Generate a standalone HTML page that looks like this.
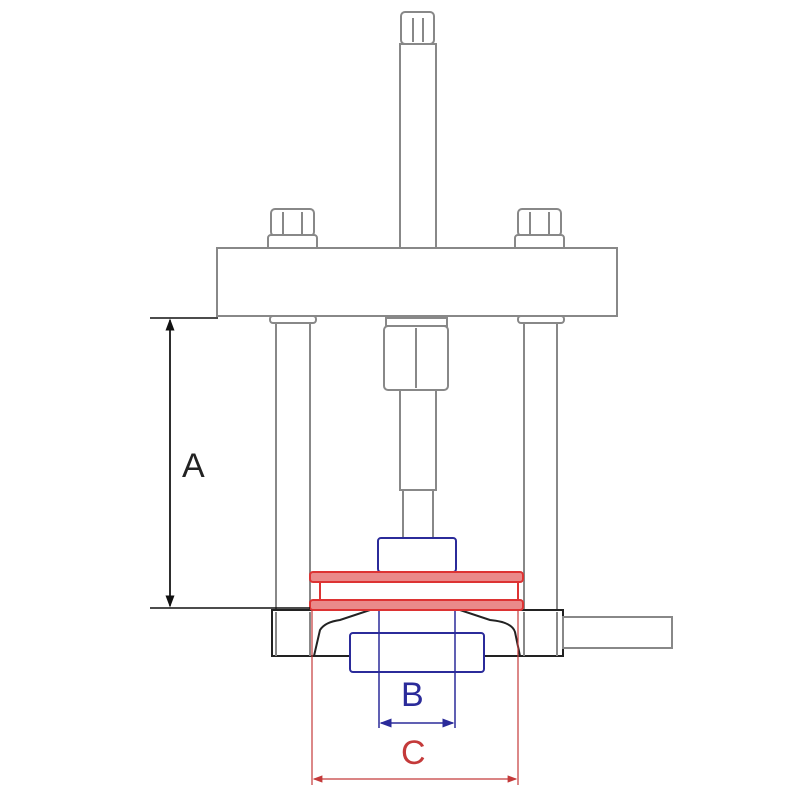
<!DOCTYPE html>
<html><head><meta charset="utf-8"><style>html,body{margin:0;padding:0;background:#fff}svg{display:block}</style></head>
<body>
<svg width="800" height="800" viewBox="0 0 800 800" xmlns="http://www.w3.org/2000/svg">
<defs>
<marker id="ak" markerWidth="8" markerHeight="8" refX="7" refY="4" orient="auto"><path d="M0,1 L8,4 L0,7z" fill="#111"/></marker>
<marker id="ab" markerWidth="8" markerHeight="8" refX="7" refY="4" orient="auto-start-reverse"><path d="M0,1 L8,4 L0,7z" fill="#2b2b9a"/></marker>
<marker id="ar" markerWidth="8" markerHeight="8" refX="7" refY="4" orient="auto-start-reverse"><path d="M0,1 L8,4 L0,7z" fill="#c43a3a"/></marker>
</defs>
<g fill="#fff" stroke="#888" stroke-width="2">
<rect x="401" y="12" width="33" height="32" rx="4"/>
<line x1="413" y1="18" x2="413" y2="42"/><line x1="423" y1="18" x2="423" y2="42"/>
<rect x="400" y="44" width="36" height="204"/>
<rect x="271" y="209" width="43" height="27" rx="4"/><rect x="268" y="235" width="49" height="30" rx="3"/><line x1="268" y1="257" x2="317" y2="257"/>
<line x1="283" y1="212" x2="283" y2="234"/><line x1="302" y1="212" x2="302" y2="234"/>
<rect x="518" y="209" width="43" height="27" rx="4"/><rect x="515" y="235" width="49" height="30" rx="3"/><line x1="515" y1="257" x2="564" y2="257"/>
<line x1="530" y1="212" x2="530" y2="234"/><line x1="549" y1="212" x2="549" y2="234"/>
<rect x="217" y="248" width="400" height="68"/>
<rect x="270" y="316" width="46" height="7" rx="3"/>
<rect x="276" y="323" width="34" height="290"/>
<rect x="518" y="316" width="46" height="7" rx="3"/>
<rect x="524" y="323" width="33" height="290"/>
<rect x="386" y="318" width="61" height="8"/>
<rect x="384" y="326" width="64" height="64" rx="4"/><line x1="416" y1="328" x2="416" y2="388"/>
<rect x="400" y="390" width="36" height="100"/>
<rect x="403" y="490" width="30" height="48"/>
<path d="M272 610 L563 610 L563 656 L272 656 Z" stroke="#222"/>
<rect x="563" y="617" width="109" height="31"/>
<path d="M314 656 L320 630 Q325 622 340 620 L370 610 L460 610 L490 620 Q512 622 515 632 L520 656 Z" stroke="#222"/>
<line x1="276" y1="612" x2="276" y2="656"/><line x1="310" y1="612" x2="310" y2="656"/>
<line x1="524" y1="612" x2="524" y2="656"/><line x1="557" y1="612" x2="557" y2="656"/>
</g>
<g fill="#fff" stroke="#2b2b9a" stroke-width="2">
<rect x="378" y="538" width="78" height="34" rx="3"/>
<rect x="350" y="633" width="134" height="39" rx="3"/>
</g>
<g stroke="#2b2b9a" stroke-width="1.5"><line x1="379" y1="572" x2="379" y2="728"/><line x1="455" y1="572" x2="455" y2="728"/>
<line x1="381" y1="723" x2="453" y2="723" marker-start="url(#ab)" marker-end="url(#ab)"/></g>
<g fill="#ea8a8a" stroke="#d33" stroke-width="2">
<rect x="310" y="572" width="213" height="10" rx="3"/>
<rect x="320" y="582" width="198" height="18" fill="#fff"/>
<rect x="310" y="600" width="213" height="10" rx="3"/>
</g>
<g stroke="#c43a3a" stroke-width="1.2"><line x1="312" y1="610" x2="312" y2="785"/><line x1="518" y1="610" x2="518" y2="785"/>
<line x1="314" y1="779" x2="516" y2="779" marker-start="url(#ar)" marker-end="url(#ar)"/></g>
<g stroke="#111" stroke-width="1.5"><line x1="150" y1="318" x2="218" y2="318"/><line x1="150" y1="608" x2="310" y2="608"/>
<line x1="170" y1="330" x2="170" y2="606" marker-end="url(#ak)"/><line x1="170" y1="596" x2="170" y2="320" marker-end="url(#ak)"/></g>
<g font-family="Liberation Sans, sans-serif" font-size="34">
<text x="182" y="477" fill="#222">A</text>
<text x="401" y="706" fill="#2b2b9a">B</text>
<text x="401" y="764" fill="#c43a3a">C</text>
</g>
</svg>
</body></html>
